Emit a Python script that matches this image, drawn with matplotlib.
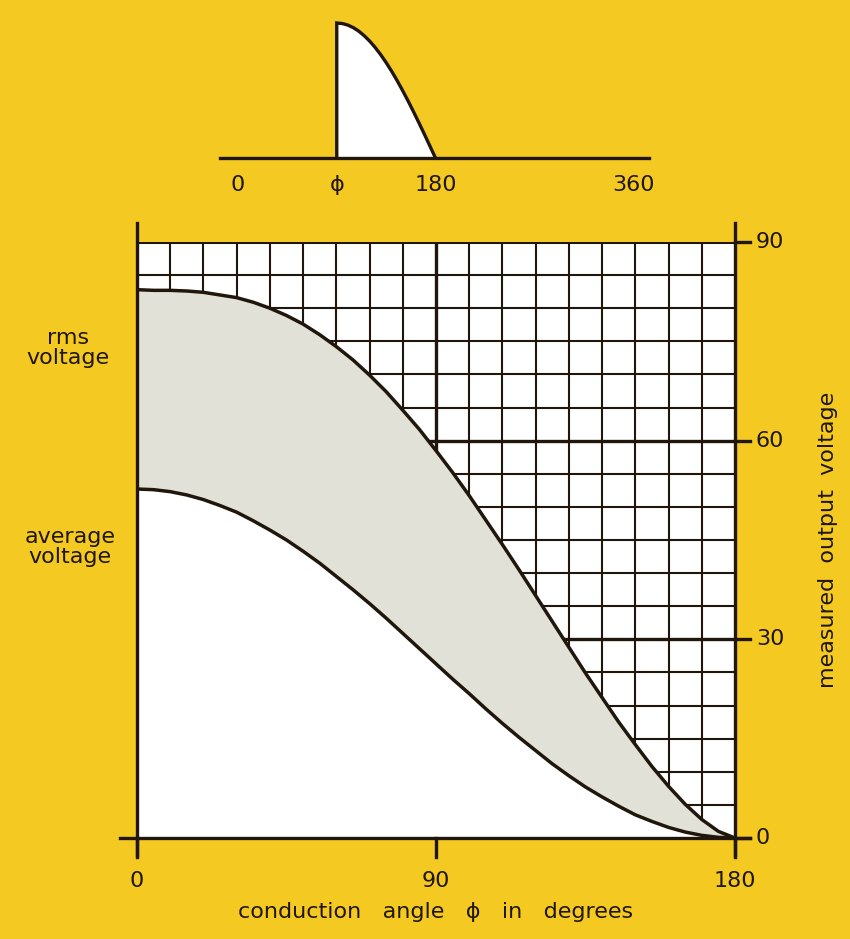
import matplotlib
matplotlib.use("Agg")
import matplotlib.pyplot as plt

# Conduction angle (degrees) and measured output voltages (volts)
angle = [0, 5, 10, 15, 20, 25, 30, 35, 40, 45, 50, 55, 60, 65, 70, 75, 80, 85, 90,
         95, 100, 105, 110, 115, 120, 125, 130, 135, 140, 145, 150, 155, 160, 165,
         170, 175, 180]
rms_voltage = [82.8, 82.7, 82.7, 82.6, 82.4, 82.0, 81.6, 80.9, 80.0, 78.9, 77.6,
               76.0, 74.2, 72.2, 69.9, 67.4, 64.6, 61.7, 58.5, 55.2, 51.7, 48.0,
               44.3, 40.5, 36.6, 32.7, 28.8, 24.9, 21.2, 17.5, 14.1, 10.8, 7.8,
               5.1, 2.8, 1.0, 0.0]
avg_voltage = [52.7, 52.6, 52.3, 51.8, 51.1, 50.2, 49.2, 47.9, 46.5, 45.0, 43.3,
               41.5, 39.5, 37.5, 35.4, 33.2, 30.9, 28.6, 26.3, 24.0, 21.8, 19.5,
               17.3, 15.2, 13.2, 11.2, 9.4, 7.7, 6.2, 4.8, 3.5, 2.5, 1.6, 0.9,
               0.4, 0.1, 0.0]

x_ticks = [0, 90, 180]
y_ticks = [0, 30, 60, 90]

# Waveform sketch: half-cycle conducting from phi to 180 degrees
wave_angle = [90, 95, 100, 105, 110, 115, 120, 125, 130, 135, 140, 145, 150,
              155, 160, 165, 170, 175, 180]
wave_level = [1.0, 0.996, 0.985, 0.966, 0.940, 0.906, 0.866, 0.819, 0.766,
              0.707, 0.643, 0.574, 0.5, 0.423, 0.342, 0.259, 0.174, 0.087, 0.0]
wave_ticks = [0, 90, 180, 360]
wave_tick_labels = ["0", "ϕ", "180", "360"]

BG = "#f3c922"
INK = "#20160b"
FILL = "#e2e1d8"
FS = 16

W, H = 850, 939
fig = plt.figure(figsize=(W / 100, H / 100), dpi=100, facecolor=BG)


def fx(px):
    return px / W


def fy(py):
    return 1 - py / H


# ---------------- main chart ----------------
ax = fig.add_axes([fx(137), fy(838), fx(735) - fx(137), fy(242) - fy(838)])
ax.set_xlim(0, 180)
ax.set_ylim(0, 90)
ax.set_facecolor("white")
for s in ax.spines.values():
    s.set_visible(False)
ax.set_xticks([])
ax.set_yticks([])

# grid: every 10 degrees and every 5 volts, heavier at labelled values
for gx in range(10, 180, 10):
    lw = 2.4 if gx == 90 else 1.5
    ax.plot([gx, gx], [0, 90], color=INK, lw=lw, zorder=1, solid_capstyle="butt")
for gy in range(5, 90, 5):
    lw = 2.4 if gy in (30, 60) else 1.5
    ax.plot([0, 180], [gy, gy], color=INK, lw=lw, zorder=1, solid_capstyle="butt")
ax.plot([0, 180], [90, 90], color=INK, lw=2.2, zorder=4, solid_capstyle="butt")

# shaded band between the curves, white below the average curve
ax.fill_between(angle, avg_voltage, rms_voltage, color=FILL, lw=0, zorder=2)
ax.fill_between(angle, 0, avg_voltage, color="white", lw=0, zorder=2)
ax.plot(angle, rms_voltage, color=INK, lw=2.5, zorder=5, solid_capstyle="round")
ax.plot(angle, avg_voltage, color=INK, lw=2.5, zorder=5, solid_capstyle="round")

# frame lines that run past the plotting area
ax.plot([0, 0], [-2.6, 92.9], color=INK, lw=2.4, clip_on=False, zorder=6)
ax.plot([180, 180], [-2.6, 92.9], color=INK, lw=2.4, clip_on=False, zorder=6)
ax.plot([-5, 184.5], [0, 0], color=INK, lw=2.4, clip_on=False, zorder=6)

# ticks and tick labels
for t in x_ticks:
    ax.plot([t, t], [0, -2.8], color=INK, lw=2.4, clip_on=False, zorder=6)
    ax.text(t, -6.5, str(t), ha="center", va="center", fontsize=FS, color=INK)
for t in y_ticks:
    ax.plot([180, 184.5], [t, t], color=INK, lw=2.4, clip_on=False, zorder=6)
    ax.text(186.3, t, str(t), ha="left", va="center", fontsize=FS, color=INK)

fig.text(fx(436), fy(912), "conduction   angle   ϕ   in   degrees", ha="center",
         va="center", fontsize=FS, color=INK)
fig.text(fx(828), fy(540), "measured  output  voltage", ha="center", va="center",
         rotation=90, fontsize=FS, color=INK)
fig.text(fx(68), fy(348), "rms\nvoltage", ha="center", va="center",
         fontsize=FS, color=INK, linespacing=1.0)
fig.text(fx(70), fy(547), "average\nvoltage", ha="center", va="center",
         fontsize=FS, color=INK, linespacing=1.0)

# ---------------- waveform sketch ----------------
ax2 = fig.add_axes([fx(238), fy(158), fx(633) - fx(238), fy(23) - fy(158)])
ax2.set_xlim(0, 360)
ax2.set_ylim(0, 1)
ax2.set_facecolor("none")
ax2.axis("off")
ax2.fill_between(wave_angle, 0, wave_level, color="white", lw=0, zorder=1)
ax2.plot([wave_angle[0]] + wave_angle, [0] + wave_level, color=INK, lw=2.4,
         zorder=3, clip_on=False, solid_joinstyle="miter")
ax2.plot([-16, 375], [0, 0], color=INK, lw=2.4, clip_on=False, zorder=4)
for t, lab in zip(wave_ticks, wave_tick_labels):
    ax2.text(t, -0.2, lab, ha="center", va="center", fontsize=FS, color=INK)

fig.savefig("out.png", dpi=100, facecolor=BG)
